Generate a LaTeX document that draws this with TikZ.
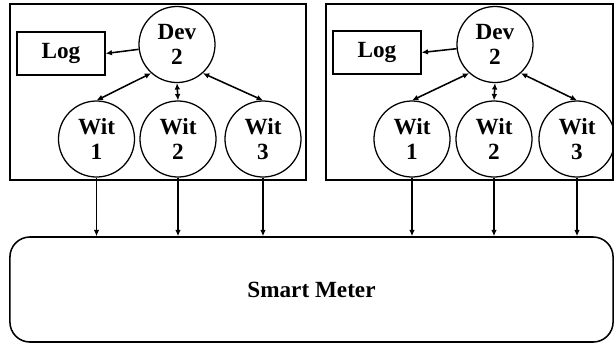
\documentclass[tikz,border=0pt]{standalone}
\usepackage{fontspec}
\setmainfont{Liberation Serif}
\usetikzlibrary{arrows.meta}

\tikzset{
    party/.style={draw, circle, line width=0.9pt, minimum size=1.9cm, inner sep=0pt,
        align=center, font=\fontsize{16.5}{18}\selectfont\bfseries},
    logbox/.style={draw, rectangle, line width=0.9pt, minimum width=2.2cm, minimum height=1.075cm,
        font=\fontsize{16.5}{18}\selectfont\bfseries},
    frame/.style={draw, line width=1.1pt},
    link/.style={line width=1.1pt, >={Latex[length=4.5pt,width=4pt]}}
}

\begin{document}
\begin{tikzpicture}[x=0.025cm, y=-0.025cm]
    \useasboundingbox (0,0) rectangle (614,345);

    % Frames around the two groups
    \draw[frame] (10,4) rectangle (306,180);
    \draw[frame] (326,4) rectangle (613,180);

    % Left group
    \node[logbox] (logL) at (61,53.5) {Log};
    \node[party] (devL) at (177,44.5) {Dev\\2};
    \node[party] (witL1) at (96.5,139) {Wit\\1};
    \node[party] (witL2) at (178,139) {Wit\\2};
    \node[party] (witL3) at (263,139) {Wit\\3};

    % Right group
    \node[logbox] (logR) at (377,52.5) {Log};
    \node[party] (devR) at (495,44.5) {Dev\\2};
    \node[party] (witR1) at (412,139) {Wit\\1};
    \node[party] (witR2) at (494,139) {Wit\\2};
    \node[party] (witR3) at (577,139) {Wit\\3};

    % Smart meter at the bottom
    \node[draw, line width=1.1pt, rounded corners=0.5cm, minimum width=15.075cm, minimum height=2.625cm,
        font=\fontsize{16.5}{18}\selectfont\bfseries] (meter) at (311.5,289.5) {Smart Meter};

    % Dev writes to its log
    \draw[link, ->] (devL) -- (logL.east);
    \draw[link, ->] (devR) -- (logR.east);

    % Dev talks with each witness, witnesses report to the meter
    \foreach \g in {L,R} {
        \draw[link, <->] (dev\g.228) -- (wit\g1.north);
        \draw[link, <->] (dev\g.south) -- (wit\g2.north);
        \draw[link, <->] (dev\g.-48) -- (wit\g3.north);
        \foreach \i in {1,2,3}
            \draw[link, ->] (wit\g\i.south) -- (wit\g\i.south |- meter.north);
    }
\end{tikzpicture}
\end{document}
